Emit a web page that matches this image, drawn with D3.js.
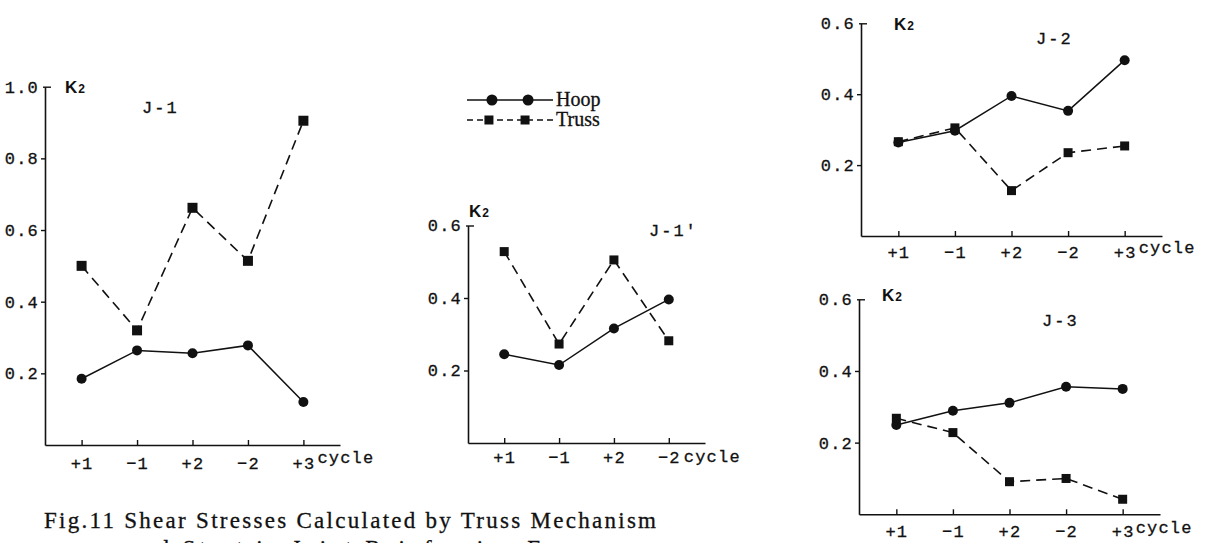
<!DOCTYPE html>
<html>
<head>
<meta charset="utf-8">
<script src="https://cdn.jsdelivr.net/npm/d3@7"></script>
<style>
  body{margin:0;background:#fff;}
  svg{display:block;}
  .tk{font-family:"Liberation Mono","DejaVu Sans Mono",monospace;font-size:17px;letter-spacing:1.2px;fill:#111;stroke:#111;stroke-width:0.3px;}
  .ttl{font-family:"Liberation Mono",monospace;font-size:17px;letter-spacing:2px;fill:#111;stroke:#111;stroke-width:0.3px;}
  .k2{font-family:"Liberation Sans",Arial,sans-serif;font-weight:bold;fill:#111;}
  .leg{font-family:"Liberation Serif","Times New Roman",serif;font-size:20px;fill:#111;stroke:#111;stroke-width:0.3px;}
  .cap{font-family:"Liberation Serif","Times New Roman",serif;font-size:23px;fill:#111;stroke:#111;stroke-width:0.3px;}
</style>
</head>
<body>
<div id="DrawingBoard"></div>
<script>
var width=1212,height=543;

// categories (load cycles)
var cycles5=["+1","\u22121","+2","\u22122","+3"],
    cycles4=["+1","\u22121","+2","\u22122"];

// K2 values
var j1Hoop=[0.185,0.264,0.256,0.278,0.12],
    j1Truss=[0.50,0.32,0.662,0.514,0.905];
var j1pHoop=[0.245,0.215,0.316,0.396],
    j1pTruss=[0.528,0.273,0.505,0.282];
var j2Hoop=[0.264,0.297,0.395,0.353,0.496],
    j2Truss=[0.266,0.305,0.128,0.235,0.254];
var j3Hoop=[0.249,0.289,0.311,0.356,0.35],
    j3Truss=[0.268,0.228,0.091,0.10,0.042];

var ticks10=[0.2,0.4,0.6,0.8,1.0],
    ticks06=[0.2,0.4,0.6];

var seriesNames=["Hoop","Truss"];
var caption=["Fig.11 Shear Stresses Calculated by Truss Mechanism",
             "and Strut in Joint Reinforcing Forces"];

var svg=d3.select('#DrawingBoard')
    .append('svg')
    .attr('width',width)
    .attr('height',height);

// panel layout (px)
var panels=[
  {name:"J-1", cats:cycles5, hoop:j1Hoop, truss:j1Truss, ymax:1.0, ticks:ticks10,
   x0:45, x1:340, y0:445, yTop:86.7, k2:[20,93], title:[142,113], lab:23, cyc:[14,-5], sq:10},
  {name:"J-1'", cats:cycles4, hoop:j1pHoop, truss:j1pTruss, ymax:0.6, ticks:ticks06,
   x0:468, x1:705, y0:443, yTop:225.5, k2:[1,217], title:[649,236], lab:19, cyc:[15,0], sq:9},
  {name:"J-2", cats:cycles5, hoop:j2Hoop, truss:j2Truss, ymax:0.6, ticks:ticks06,
   x0:861, x1:1162, y0:236, yTop:23.3, k2:[33,30], title:[1036,44], lab:21, cyc:[14,-4], sq:9},
  {name:"J-3", cats:cycles5, hoop:j3Hoop, truss:j3Truss, ymax:0.6, ticks:ticks06,
   x0:859, x1:1160, y0:514.3, yTop:299.3, k2:[23,301], title:[1042,326], lab:22, cyc:[13,-3], sq:9}
];

panels.forEach(function(p){
  var g=svg.append('g');
  var sx=d3.scalePoint().domain(p.cats).range([p.x0,p.x1]).padding(0.66);
  var sy=d3.scaleLinear().domain([0,p.ymax]).range([p.y0,p.yTop]);

  // y axis
  var ya=g.append('g')
      .attr('transform','translate('+p.x0+',0)')
      .call(d3.axisLeft(sy).tickValues(p.ticks).tickFormat(d3.format('.1f')).tickSize(4).tickSizeOuter(0).tickPadding(2));
  ya.select('.domain').attr('stroke','#111').attr('stroke-width',1.6);
  ya.selectAll('.tick line').attr('stroke','#111').attr('stroke-width',1.4);
  ya.selectAll('.tick text').attr('class','tk').attr('font-size',null).attr('font-family',null);
  // top hook goes right
  ya.selectAll('.tick').filter(function(d){return d===p.ymax;})
    .select('line').attr('x1',-2).attr('x2',6);

  // x axis
  var xa=g.append('g')
      .attr('transform','translate(0,'+p.y0+')')
      .call(d3.axisBottom(sx).tickSize(-5).tickSizeOuter(0).tickPadding(p.lab-11));
  xa.select('.domain').attr('stroke','#111').attr('stroke-width',1.6);
  xa.selectAll('.tick line').attr('stroke','#111').attr('stroke-width',1.4);
  xa.selectAll('.tick text').attr('class','tk').attr('font-size',null).attr('font-family',null);

  var last=p.cats[p.cats.length-1];
  g.append('text').attr('class','tk')
    .attr('x',sx(last)+p.cyc[0]).attr('y',p.y0+p.lab+p.cyc[1])
    .attr('letter-spacing','0.8px')
    .text('cycle');

  // K2 label
  var k=g.append('text').attr('class','k2')
    .attr('x',p.x0+p.k2[0]).attr('y',p.k2[1]);
  k.append('tspan').attr('font-size',17).text('K');
  k.append('tspan').attr('font-size',12).attr('dx',1).text('2');

  g.append('text').attr('class','ttl')
    .attr('x',p.title[0]).attr('y',p.title[1]).text(p.name);

  var line=d3.line().x(function(d,i){return sx(p.cats[i]);}).y(function(d){return sy(d);});

  g.append('path').datum(p.truss).attr('d',line)
    .attr('fill','none').attr('stroke','#111').attr('stroke-width',1.6)
    .attr('stroke-dasharray','10,6');
  g.append('path').datum(p.hoop).attr('d',line)
    .attr('fill','none').attr('stroke','#111').attr('stroke-width',1.5);

  g.selectAll('.hp').data(p.hoop).enter().append('circle')
    .attr('cx',function(d,i){return sx(p.cats[i]);})
    .attr('cy',function(d){return sy(d);})
    .attr('r',5).attr('fill','#111');
  g.selectAll('.ts').data(p.truss).enter().append('rect')
    .attr('x',function(d,i){return sx(p.cats[i])-p.sq/2;})
    .attr('y',function(d){return sy(d)-p.sq/2;})
    .attr('width',p.sq).attr('height',p.sq).attr('fill','#111');
});

// legend
var lg=svg.append('g').attr('transform','translate(467,100)');
var lx=d3.scaleLinear().domain([0,1]).range([0,86]);
seriesNames.forEach(function(s,i){
  var yy=i*20;
  lg.append('line').attr('x1',lx(0)).attr('x2',lx(1)).attr('y1',yy).attr('y2',yy)
    .attr('stroke','#111').attr('stroke-width',1.5)
    .attr('stroke-dasharray',i? '6,4':null);
  [0.29,0.71].forEach(function(t){
    if(i===0){
      lg.append('circle').attr('cx',lx(t)).attr('cy',yy).attr('r',5.5).attr('fill','#111');
    }else{
      lg.append('rect').attr('x',lx(t)-4.5-3).attr('y',yy-4.5).attr('width',9).attr('height',9).attr('fill','#111');
    }
  });
  lg.append('text').attr('class','leg').attr('x',lx(1)+3).attr('y',yy+6).text(s);
});

// caption (second line runs off the bottom, as in the scan)
caption.forEach(function(c,i){
  svg.append('text').attr('class','cap')
    .attr('x',i? 128:44).attr('y',528+i*28)
    .attr('textLength',i? 480:612).attr('lengthAdjust','spacing')
    .text(c);
});
</script>
</body>
</html>
